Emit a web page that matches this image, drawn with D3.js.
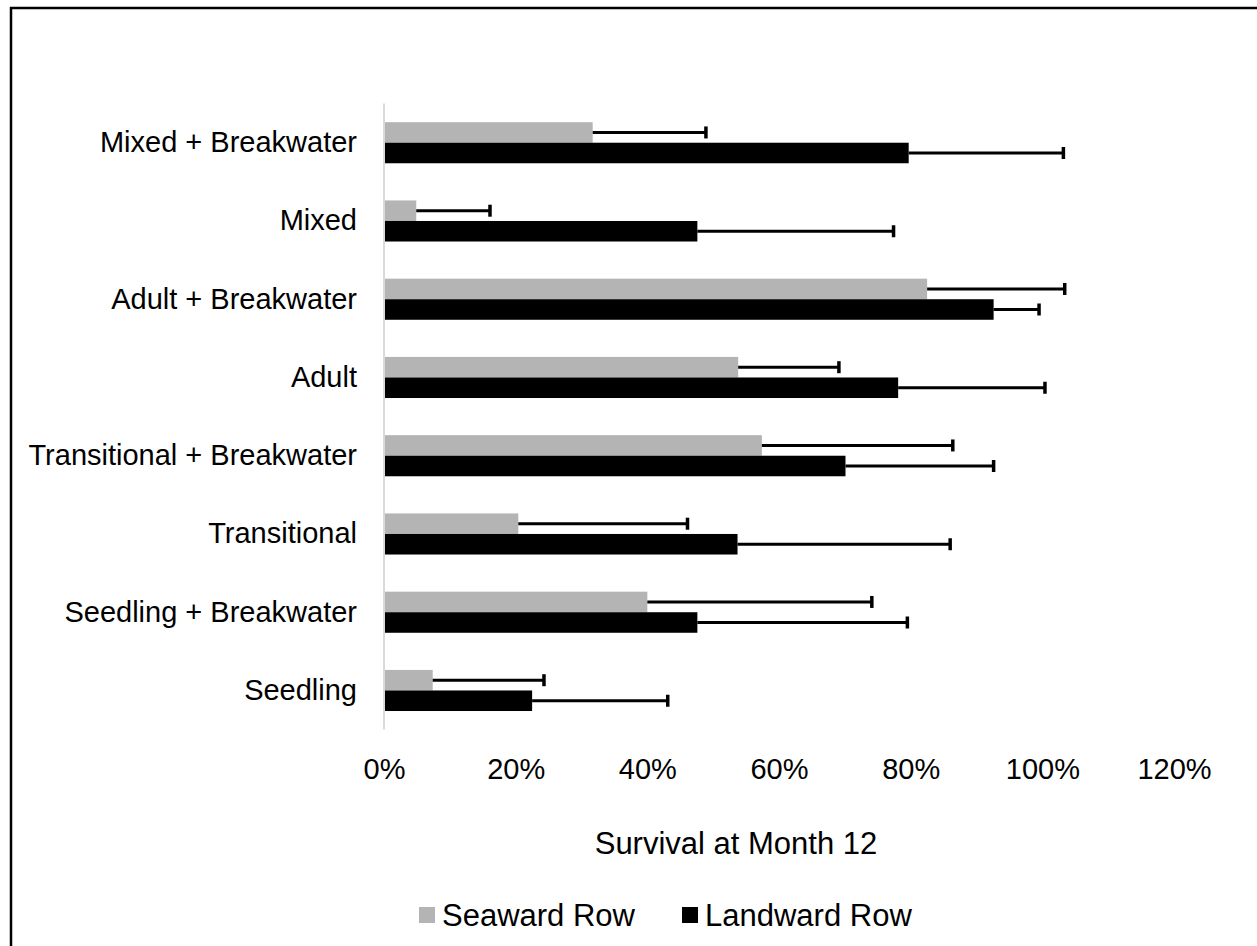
<!DOCTYPE html>
<html>
<head>
<meta charset="utf-8">
<script src="https://cdn.jsdelivr.net/npm/d3@7"></script>
<style>
  body { margin: 0; background: #fff; }
  text { font-family: "Liberation Sans", Arial, sans-serif; fill: #000; }
</style>
</head>
<body>
<script>
// Categories, top to bottom as drawn
const categories = ["Mixed + Breakwater", "Mixed", "Adult + Breakwater", "Adult",
  "Transitional + Breakwater", "Transitional", "Seedling + Breakwater", "Seedling"];
const seriesNames = ["Seaward Row", "Landward Row"];

// Survival (%) and error (+%) per category
const seaward = [31.7, 4.9, 82.5, 53.8, 57.4, 20.4, 40.0, 7.4];
const seawardErr = [17.2, 11.2, 20.9, 15.3, 29.0, 25.7, 34.1, 16.9];
const landward = [79.7, 47.6, 92.6, 78.1, 70.1, 53.7, 47.6, 22.5];
const landwardErr = [23.5, 29.8, 6.9, 22.3, 22.5, 32.3, 31.9, 20.6];

const xTicks = [0, 20, 40, 60, 80, 100, 120];
const colors = ["#b4b4b4", "#000000"];

const W = 1257, H = 946;

// Build a flat table from the arrays
const rows = [];
categories.forEach((c, i) => {
  rows.push({ cat: c, series: seriesNames[0], v: seaward[i], e: seawardErr[i] });
  rows.push({ cat: c, series: seriesNames[1], v: landward[i], e: landwardErr[i] });
});

const svg = d3.select("body")
  .append("svg")
  .attr("width", W)
  .attr("height", H);

// chart area border (right and bottom run off the picture)
svg.append("rect")
  .attr("x", 11).attr("y", 8)
  .attr("width", 1300).attr("height", 1000)
  .attr("fill", "#fff")
  .attr("stroke", "#000")
  .attr("stroke-width", 2.5);

const x = d3.scaleLinear()
  .domain([0, 120])
  .range([384, 1174]);

const y = d3.scaleBand()
  .domain(categories)
  .range([103.6, 729.6])
  .paddingInner(0.475)
  .paddingOuter(0.2375);

const ySub = d3.scaleBand()
  .domain(seriesNames)
  .range([0, y.bandwidth()]);

const color = d3.scaleOrdinal().domain(seriesNames).range(colors);

// x axis tick labels only
const xAxis = d3.axisBottom(x)
  .tickValues(xTicks)
  .tickSize(0)
  .tickFormat(d => d + "%");

const gx = svg.append("g")
  .attr("transform", "translate(0,755)")
  .call(xAxis);
gx.select(".domain").remove();
gx.selectAll("text")
  .attr("font-size", 29)
  .attr("font-family", "'Liberation Sans', Arial, sans-serif")
  .attr("fill", "#000");

// category labels
const yAxis = d3.axisLeft(y).tickSize(0).tickPadding(0);
const gy = svg.append("g")
  .attr("transform", "translate(357,0)")
  .call(yAxis);
gy.select(".domain").remove();
gy.selectAll("text")
  .attr("font-size", 29)
  .attr("font-family", "'Liberation Sans', Arial, sans-serif")
  .attr("fill", "#000");

// bars
svg.append("g")
  .selectAll("rect")
  .data(rows)
  .join("rect")
  .attr("x", x(0))
  .attr("y", d => y(d.cat) + ySub(d.series))
  .attr("width", d => x(d.v) - x(0))
  .attr("height", ySub.bandwidth())
  .attr("fill", d => color(d.series));

// vertical axis line
svg.append("line")
  .attr("x1", x(0)).attr("x2", x(0))
  .attr("y1", y.range()[0]).attr("y2", y.range()[1])
  .attr("stroke", "#d9d9d9")
  .attr("stroke-width", 2);

// error bars
const err = svg.append("g").attr("stroke", "#000");
err.selectAll("line.bar")
  .data(rows)
  .join("line")
  .attr("class", "bar")
  .attr("x1", d => x(d.v))
  .attr("x2", d => x(d.v + d.e))
  .attr("y1", d => y(d.cat) + ySub(d.series) + ySub.bandwidth() / 2)
  .attr("y2", d => y(d.cat) + ySub(d.series) + ySub.bandwidth() / 2)
  .attr("stroke-width", 3);
err.selectAll("line.cap")
  .data(rows)
  .join("line")
  .attr("class", "cap")
  .attr("x1", d => x(d.v + d.e))
  .attr("x2", d => x(d.v + d.e))
  .attr("y1", d => y(d.cat) + ySub(d.series) + ySub.bandwidth() / 2 - 6)
  .attr("y2", d => y(d.cat) + ySub(d.series) + ySub.bandwidth() / 2 + 6)
  .attr("stroke-width", 3.5);

// axis title
svg.append("text")
  .attr("x", 736)
  .attr("y", 854)
  .attr("text-anchor", "middle")
  .attr("font-size", 31)
  .text("Survival at Month 12");

// legend
const legendX = [419, 682];
const lg = svg.append("g")
  .selectAll("g")
  .data(seriesNames)
  .join("g")
  .attr("transform", (d, i) => "translate(" + legendX[i] + ",915)");
lg.append("rect")
  .attr("x", 0).attr("y", -8)
  .attr("width", 16).attr("height", 16)
  .attr("fill", d => color(d));
lg.append("text")
  .attr("x", 23)
  .attr("y", 11)
  .attr("font-size", 31)
  .text(d => d);
</script>
</body>
</html>
